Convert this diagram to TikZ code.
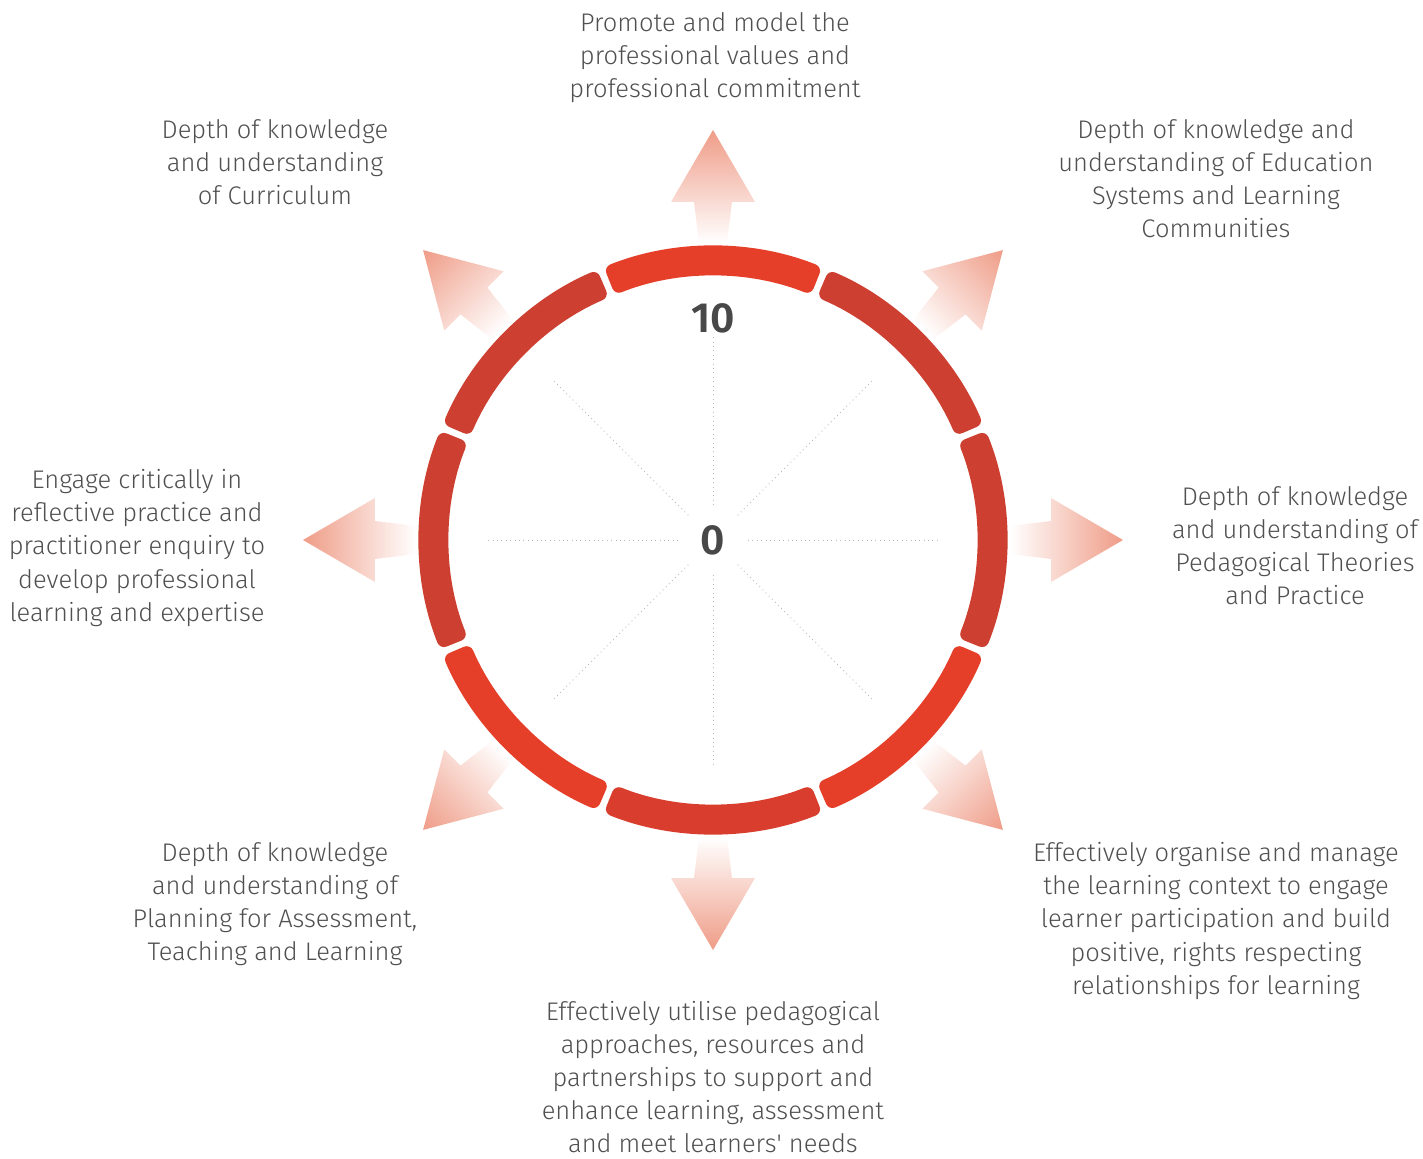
\documentclass[tikz,border=0pt]{standalone}
\usepackage{fontspec}
\setmainfont{Fira Sans Light}
\newfontfamily\numfont{Fira Sans SemiBold}
\definecolor{ringred}{HTML}{E53F2A}
\definecolor{ringdark}{HTML}{CD3F30}
\definecolor{ringmid}{HTML}{D83D2D}
\definecolor{arrowtip}{HTML}{EF9C87}
\definecolor{txtgray}{HTML}{505050}
\tikzset{
  goal/.style={text=txtgray,align=center,font=\fontsize{14.5}{18.8}\selectfont},
  score/.style={text=txtgray!90!black,font=\numfont\fontsize{24}{24}\selectfont},
  spoke/.style={gray!55,dotted,line width=0.5pt},
  arrowfill/.style={left color=white,right color=arrowtip},
}
\begin{document}
\begin{tikzpicture}[x=0.02cm,y=0.02cm]
\useasboundingbox (-713,-619) rectangle (710,540);
    \foreach \a in {0,45,...,315}{
    \draw[spoke] (\a:35) -- (\a:228);
    }
    \foreach \a in {0,45,...,315}{
    \begin{scope}[transform canvas={rotate=\a}]
    \shade[arrowfill] (297,-14) -- (338,-19) -- (338,-42) -- (410,0) -- (338,42) -- (338,19) -- (297,14) -- cycle;
    \end{scope}
    }
    \foreach \a/\c in {90/ringred,45/ringdark,0/ringdark,-45/ringred,-90/ringmid,-135/ringred,180/ringdark,135/ringdark}{
    \fill[\c,rounded corners=4pt] ({\a-21.8}:294) arc[start angle={\a-21.8},end angle={\a+21.8},radius=294] -- ({\a+21.8}:264) arc[start angle={\a+21.8},end angle={\a-21.8},radius=264] -- cycle;
    }
    \node[score,fill=white,inner sep=1pt] (ten) at (0,222) {10};
    \node[score,fill=white,inner sep=2pt] (zero) at (0,0) {0};
    \node[goal] (promote) at (2,482) {Promote and model the\\professional values and\\professional commitment};
    \node[goal] (curric) at (-438,378) {Depth of knowledge\\and understanding\\of Curriculum};
    \node[goal] (systems) at (503,361) {Depth of knowledge and\\understanding of Education\\Systems and Learning\\Communities};
    \node[goal] (pedag) at (582,-6) {Depth of knowledge\\and understanding of\\Pedagogical Theories\\and Practice};
    \node[goal] (organise) at (503,-381) {Effectively organise and manage\\the learning context to engage\\learner participation and build\\positive, rights respecting\\relationships for learning};
    \node[goal] (utilise) at (0,-537) {Effectively utilise pedagogical\\approaches, resources and\\partnerships to support and\\enhance learning, assessment\\and meet learners\textquotesingle\ needs};
    \node[goal] (planning) at (-438,-364) {Depth of knowledge\\and understanding of\\Planning for Assessment,\\Teaching and Learning};
    \node[goal] (reflect) at (-576,-8) {Engage critically in\\reflective practice and\\practitioner enquiry to\\develop professional\\learning and expertise};
\end{tikzpicture}
\end{document}
